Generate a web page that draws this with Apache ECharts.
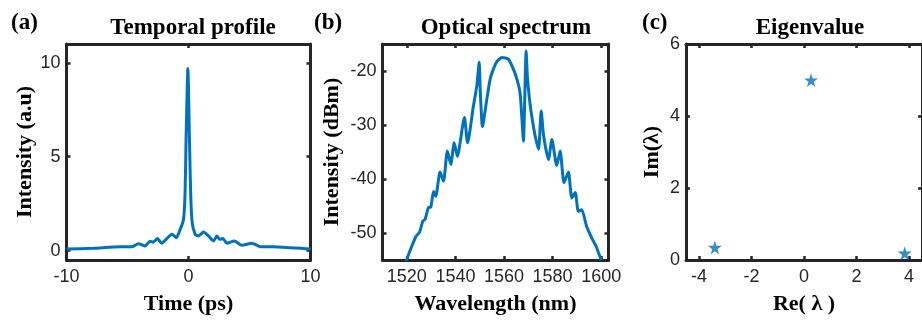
<!DOCTYPE html>
<html>
<head>
<meta charset="utf-8">
<script src="https://cdn.jsdelivr.net/npm/echarts@6/dist/echarts.min.js"></script>
<style>
  html, body { margin: 0; padding: 0; background: #fff; }
  #chart { width: 922px; height: 320px; }
</style>
</head>
<body>
<div id="chart"></div>
<script>
// (a) temporal profile
const timePs = [-10, -7.8, -5.6, -4.65, -4.1, -3.56, -3.15, -2.9, -2.55, -2.2, -1.78, -1.36, -1.0, -0.68,
  -0.41, -0.28, -0.2, -0.05, 0.08, 0.18, 0.3, 0.55, 0.82, 1.23, 1.64, 2.05, 2.33, 2.55, 2.82, 3.15,
  3.75, 4.39, 5.2, 5.9, 7.0, 8.1, 9.2, 10];
const intensityAu = [0.08, 0.12, 0.2, 0.2, 0.37, 0.25, 0.5, 0.45, 0.64, 0.39, 0.64, 0.87, 0.69, 1.13,
  1.66, 3.1, 5.9, 9.7, 5.9, 3.0, 1.5, 0.87, 0.78, 0.99, 0.78, 0.51, 0.78, 0.6, 0.64, 0.39,
  0.51, 0.28, 0.39, 0.21, 0.21, 0.16, 0.12, 0.08];

// (b) optical spectrum
const wavelengthNm = [1519.7, 1522.0, 1523.8, 1525.2, 1526.6, 1527.5, 1528.9, 1529.9, 1531.0, 1531.9,
  1533.7, 1535.1, 1536.7, 1538.1, 1539.5, 1540.8, 1543.7, 1545.0, 1547.4, 1548.8, 1549.8, 1550.2,
  1550.9, 1551.2, 1551.7, 1552.9, 1554.3, 1555.6, 1557.0, 1559.2, 1561.8, 1563.9, 1565.3, 1566.6,
  1567.3, 1568.0, 1569.1, 1569.6, 1570.5, 1571.4, 1572.8, 1574.2, 1575.3, 1576.3, 1578.3, 1579.7,
  1581.7, 1583.1, 1584.7, 1586.5, 1587.9, 1589.3, 1590.6, 1592.0, 1594.0, 1596.1, 1597.9, 1600.0];
const spectrumDbm = [-55.2, -52.5, -50.6, -49.9, -47.8, -47.5, -45.3, -45.2, -42.3, -43.2,
  -38.7, -40.4, -34.8, -37.3, -33.3, -35.8, -28.6, -33.3, -26.5, -22.8, -18.4, -23.4,
  -29.6, -30.3, -29.0, -25.3, -21.5, -19.7, -18.3, -17.5, -17.8, -19.7, -21.5, -24.0,
  -28.3, -33.0, -16.3, -20.9, -25.3, -28.3, -32.0, -34.5, -27.4, -32.0, -36.4, -32.7,
  -37.5, -34.8, -40.7, -38.7, -43.5, -42.5, -46.0, -45.7, -48.8, -50.9, -52.5, -55.0];

// (c) eigenvalues
const eigRe = [-3.4, 0.27, 3.84];
const eigIm = [0.35, 5.0, 0.19];

const timeTicks = [-10, 0, 10];
const intensityTicks = [0, 5, 10];
const wavelengthTicks = [1520, 1540, 1560, 1580, 1600];
const dbmTicks = [-50, -40, -30, -20];
const reTicks = [-4, -2, 0, 2, 4];
const imTicks = [0, 2, 4, 6];

const BLUE = '#0072BD';
const INK = '#262626';
const SERIF = '"Liberation Serif", "Times New Roman", serif';
const SANS = '"Liberation Sans", Arial, sans-serif';
const STAR = 'path://M50,0 L61,35 L98,35 L68,57 L79,91 L50,70 L21,91 L32,57 L2,35 L39,35 Z';

function makeAxis(position, gridIndex, min, max, ticks, name, nameGap) {
  const main = position === 'bottom' || position === 'left';
  return {
    type: 'value',
    gridIndex: gridIndex,
    position: position,
    min: min,
    max: max,
    name: main ? name : '',
    nameLocation: 'middle',
    nameGap: nameGap,
    nameTextStyle: { fontFamily: SERIF, fontWeight: 'bold', fontSize: 22, color: '#000' },
    axisLine: { show: true, onZero: false, lineStyle: { color: INK, width: 3 } },
    axisTick: { show: true, inside: true, length: 4, customValues: ticks, lineStyle: { color: INK, width: 2.5 } },
    axisLabel: {
      show: main,
      customValues: ticks,
      margin: (position === 'bottom') ? 8 : 6,
      fontFamily: SANS,
      fontSize: 18,
      color: INK,
      formatter: v => String(v)
    },
    splitLine: { show: false }
  };
}

const grids = [
  { left: 66.5, top: 44, width: 244, height: 216 },
  { left: 382.5, top: 44, width: 226, height: 216 },
  { left: 686, top: 44, width: 244, height: 216 }
];

const titleStyle = { fontFamily: SERIF, fontWeight: 'bold', fontSize: 23, color: '#000' };

const option = {
  animation: false,
  backgroundColor: '#fff',
  title: [
    { text: '(a)', left: 11, top: 12, padding: 0, textStyle: titleStyle },
    { text: 'Temporal profile', left: 193, top: 17, padding: 0, textAlign: 'center', textStyle: titleStyle },
    { text: '(b)', left: 314, top: 12, padding: 0, textStyle: titleStyle },
    { text: 'Optical spectrum', left: 506, top: 17, padding: 0, textAlign: 'center', textStyle: titleStyle },
    { text: '(c)', left: 642, top: 12, padding: 0, textStyle: titleStyle },
    { text: 'Eigenvalue', left: 810, top: 17, padding: 0, textAlign: 'center', textStyle: titleStyle }
  ],
  grid: grids,
  xAxis: [
    makeAxis('bottom', 0, -10, 10, timeTicks, 'Time (ps)', 33),
    makeAxis('top', 0, -10, 10, timeTicks),
    makeAxis('bottom', 1, 1510, 1603, wavelengthTicks, 'Wavelength (nm)', 33),
    makeAxis('top', 1, 1510, 1603, wavelengthTicks),
    makeAxis('bottom', 2, -4.5, 4.5, reTicks, 'Re( λ )', 33),
    makeAxis('top', 2, -4.5, 4.5, reTicks)
  ],
  yAxis: [
    makeAxis('left', 0, -0.5, 11, intensityTicks, 'Intensity (a.u)', 30),
    makeAxis('right', 0, -0.5, 11, intensityTicks),
    makeAxis('left', 1, -55, -15, dbmTicks, 'Intensity (dBm)', 39),
    makeAxis('right', 1, -55, -15, dbmTicks),
    makeAxis('left', 2, 0, 6, imTicks, 'Im(λ)', 23),
    makeAxis('right', 2, 0, 6, imTicks)
  ],
  series: [
    {
      type: 'line',
      xAxisIndex: 0,
      yAxisIndex: 0,
      data: timePs.map((t, i) => [t, intensityAu[i]]),
      showSymbol: false,
      smooth: 0.2,
      lineStyle: { color: BLUE, width: 3 },
      itemStyle: { color: BLUE }
    },
    {
      type: 'line',
      xAxisIndex: 2,
      yAxisIndex: 2,
      data: wavelengthNm.map((w, i) => [w, spectrumDbm[i]]),
      showSymbol: false,
      smooth: 0.2,
      lineStyle: { color: BLUE, width: 3 },
      itemStyle: { color: BLUE }
    },
    {
      type: 'scatter',
      xAxisIndex: 4,
      yAxisIndex: 4,
      data: eigRe.map((r, i) => [r, eigIm[i]]),
      symbol: STAR,
      symbolSize: 14,
      itemStyle: { color: BLUE }
    }
  ]
};

const chart = echarts.init(document.getElementById('chart'));
chart.setOption(option);
</script>
</body>
</html>
